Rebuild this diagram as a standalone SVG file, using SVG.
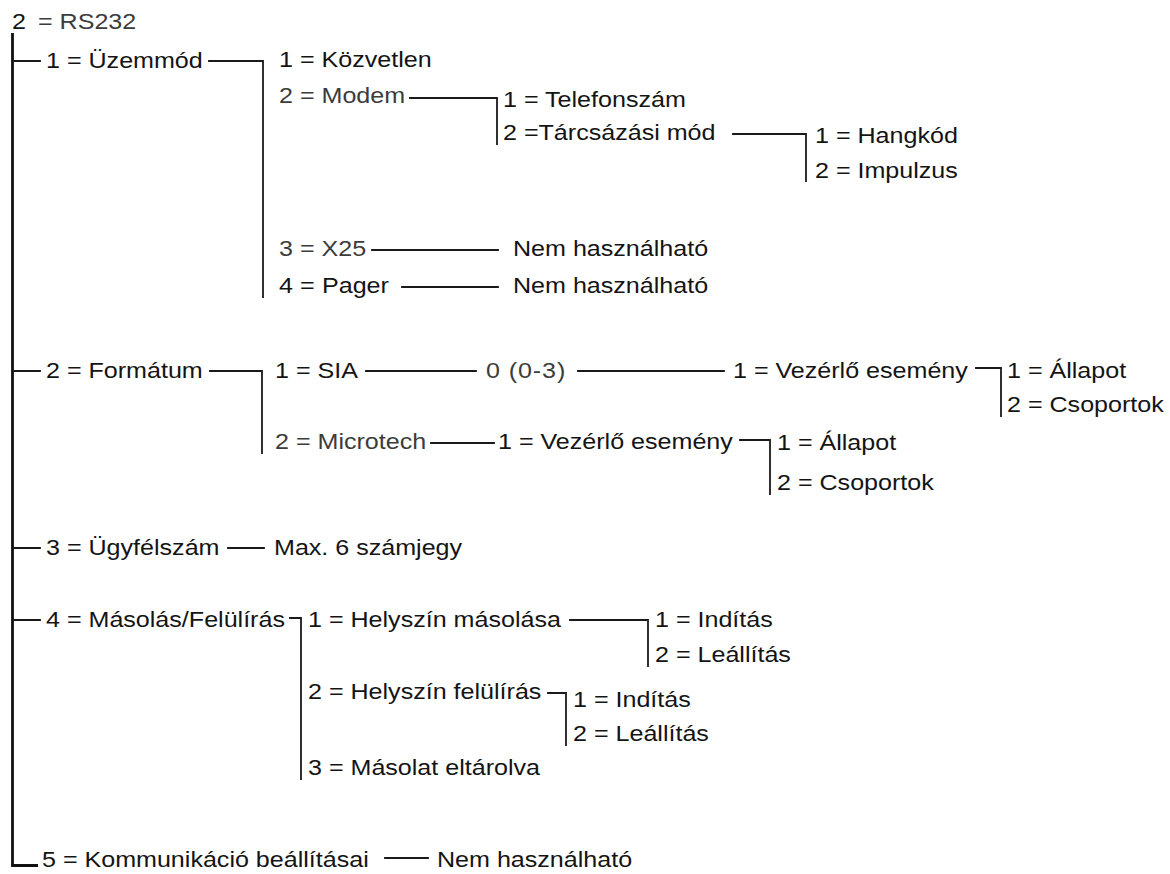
<svg xmlns="http://www.w3.org/2000/svg" width="1170" height="874" viewBox="0 0 1170 874">
<style>
.t{font-family:"Liberation Sans",Arial,Helvetica,sans-serif;font-size:22px;fill:#141414}
.g{fill:#3c3c3c}
.c{stroke:#1a1a1a;stroke-width:1.8;fill:none;stroke-linecap:square}
.r{stroke:#111;stroke-width:2.8;fill:none}
</style>
<rect width="1170" height="874" fill="#fff"/>
<g id="connectors">
<path class="r" d="M12.5,33 V865.5 H38"/>
<path class="c" d="M12.5,61 H40 M12.5,371 H40 M12.5,548 H40 M12.5,620 H40"/>
<path class="c" d="M209,61 H263 V297"/>
<path class="c" d="M410,98 H497 V144"/>
<path class="c" d="M733,134 H806 V181"/>
<path class="c" d="M372,250 H498"/>
<path class="c" d="M402,287 H498"/>
<path class="c" d="M210,371 H262 V453"/>
<path class="c" d="M366,371 H476"/>
<path class="c" d="M578,371 H724"/>
<path class="c" d="M976,368 H1001 V416"/>
<path class="c" d="M431,443 H494"/>
<path class="c" d="M740,440 H770 V494"/>
<path class="c" d="M228,548 H264"/>
<path class="c" d="M290,618 H301 V779"/>
<path class="c" d="M570,620 H648 V666"/>
<path class="c" d="M548,693 H566 V745"/>
<path class="c" d="M385,858 H428"/>
</g>
<g id="root"><text class="t" transform="translate(12,29) scale(1.14,1)">2</text><text class="t g" transform="translate(38,29) scale(1.14,1)">= RS232</text></g>
<g id="n-uzemmod"><text class="t" transform="translate(46,68) scale(1.14,1)">1 = Üzemmód</text></g>
<g id="n-kozvetlen"><text class="t" transform="translate(279,67) scale(1.14,1)">1 = Közvetlen</text></g>
<g id="n-modem"><text class="t g" transform="translate(279,103) scale(1.14,1)">2 = Modem</text></g>
<g id="n-telefonszam"><text class="t" transform="translate(503,107) scale(1.14,1)">1 = Telefonszám</text></g>
<g id="n-tarcsazasi"><text class="t" transform="translate(503,140) scale(1.14,1)">2 =Tárcsázási mód</text></g>
<g id="n-hangkod"><text class="t" transform="translate(815,143) scale(1.14,1)">1 = Hangkód</text></g>
<g id="n-impulzus"><text class="t" transform="translate(815,178) scale(1.14,1)">2 = Impulzus</text></g>
<g id="n-x25"><text class="t g" transform="translate(279,256) scale(1.14,1)">3 = X25</text></g>
<g id="n-x25-nem"><text class="t" transform="translate(513,256) scale(1.14,1)">Nem használható</text></g>
<g id="n-pager"><text class="t" transform="translate(279,293) scale(1.14,1)">4 =</text><text class="t" transform="translate(322,293) scale(1.14,1)">Pager</text></g>
<g id="n-pager-nem"><text class="t" transform="translate(513,293) scale(1.14,1)">Nem használható</text></g>
<g id="n-formatum"><text class="t" transform="translate(46,378) scale(1.14,1)">2 = Formátum</text></g>
<g id="n-sia"><text class="t" transform="translate(275,378) scale(1.14,1)">1 = SIA</text></g>
<g id="n-sia-0"><text class="t g" transform="translate(486,378) scale(1.14,1)" letter-spacing="0.8">0 (0-3)</text></g>
<g id="n-sia-vezerlo"><text class="t" transform="translate(733,378) scale(1.14,1)">1 = Vezérlő esemény</text></g>
<g id="n-sia-allapot"><text class="t" transform="translate(1007,378) scale(1.14,1)">1 = Állapot</text></g>
<g id="n-sia-csoportok"><text class="t" transform="translate(1007,412) scale(1.14,1)">2 = Csoportok</text></g>
<g id="n-microtech"><text class="t g" transform="translate(275,449) scale(1.14,1)">2 = Microtech</text></g>
<g id="n-mt-vezerlo"><text class="t" transform="translate(498,449) scale(1.14,1)">1 = Vezérlő esemény</text></g>
<g id="n-mt-allapot"><text class="t" transform="translate(777,450) scale(1.14,1)">1 = Állapot</text></g>
<g id="n-mt-csoportok"><text class="t" transform="translate(777,490) scale(1.14,1)">2 = Csoportok</text></g>
<g id="n-ugyfelszam"><text class="t" transform="translate(46,555) scale(1.14,1)">3 = Ügyfélszám</text></g>
<g id="n-max"><text class="t" transform="translate(274,555) scale(1.14,1)">Max. 6 számjegy</text></g>
<g id="n-masolas"><text class="t" transform="translate(46,627) scale(1.14,1)">4 = Másolás/Felülírás</text></g>
<g id="n-hely-masolasa"><text class="t" transform="translate(308,627) scale(1.14,1)">1 = Helyszín másolása</text></g>
<g id="n-hm-inditas"><text class="t" transform="translate(655,627) scale(1.14,1)">1 = Indítás</text></g>
<g id="n-hm-leallitas"><text class="t" transform="translate(655,662) scale(1.14,1)">2 = Leállítás</text></g>
<g id="n-hely-felulir"><text class="t" transform="translate(308,699) scale(1.14,1)">2 = Helyszín felülírás</text></g>
<g id="n-hf-inditas"><text class="t" transform="translate(573,707) scale(1.14,1)">1 = Indítás</text></g>
<g id="n-hf-leallitas"><text class="t" transform="translate(573,741) scale(1.14,1)">2 = Leállítás</text></g>
<g id="n-masolat"><text class="t" transform="translate(308,775) scale(1.14,1)">3 = Másolat eltárolva</text></g>
<g id="n-kommunikacio"><text class="t" transform="translate(42,867) scale(1.14,1)">5 = Kommunikáció beállításai</text></g>
<g id="n-komm-nem"><text class="t" transform="translate(437,867) scale(1.14,1)">Nem használható</text></g>
</svg>
